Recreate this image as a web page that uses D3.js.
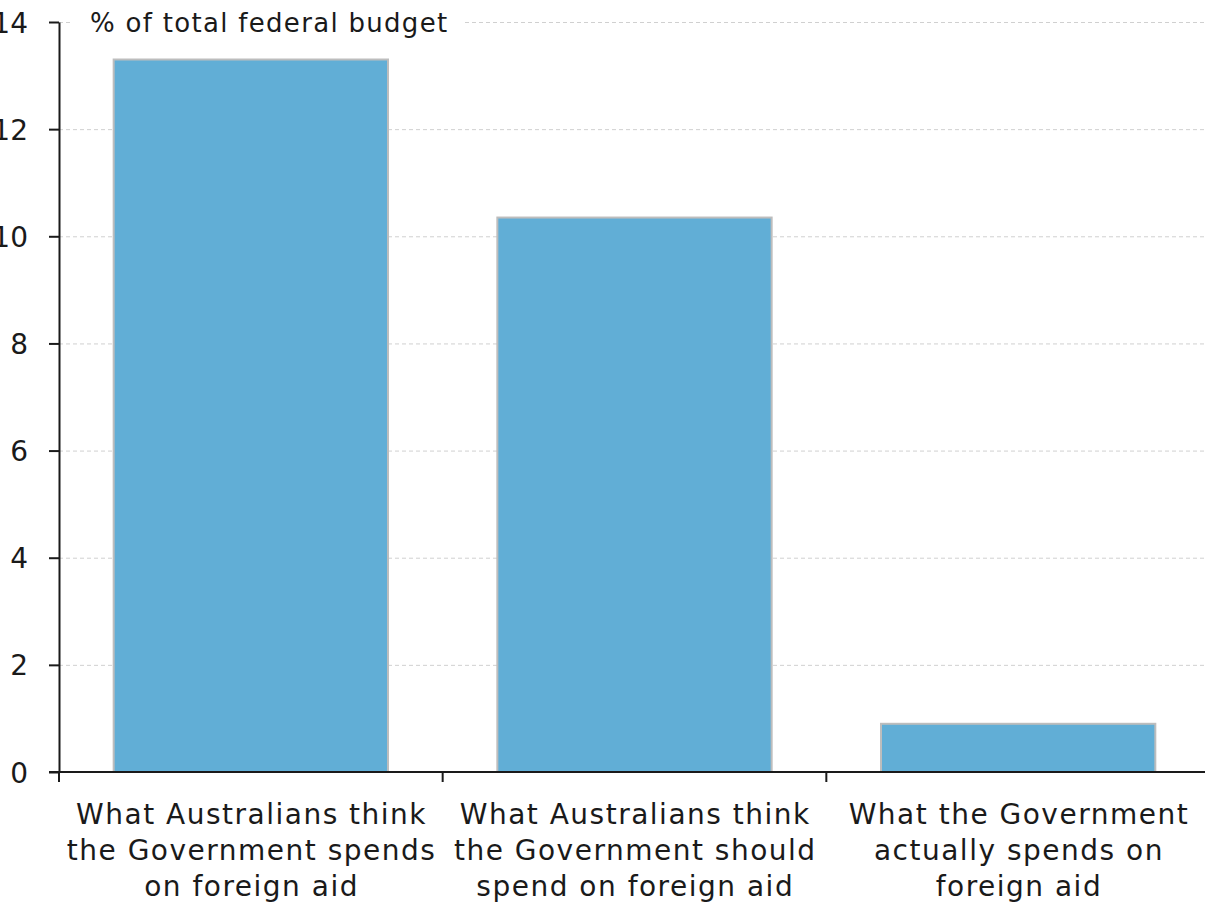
<!DOCTYPE html>
<html>
<head>
<meta charset="utf-8">
<script src="https://cdn.jsdelivr.net/npm/d3@7"></script>
<style>
  html, body { margin: 0; padding: 0; background: #fff; }
  svg { display: block; }
  text { font-family: "DejaVu Sans", sans-serif; fill: #1a1a1a; }
</style>
</head>
<body>
<svg id="chart" width="1205" height="915"></svg>
<script>
// Foreign aid: perception vs preference vs reality (% of total federal budget)
const categories = [
  ["What Australians think", "the Government spends", "on foreign aid"],
  ["What Australians think", "the Government should", "spend on foreign aid"],
  ["What the Government", "actually spends on", "foreign aid"]
];
const values = [13.3, 10.35, 0.9];
const yTicks = [0, 2, 4, 6, 8, 10, 12, 14];
const unitLabel = "% of total federal budget";

const svg = d3.select("#chart");
const margin = { left: 59, top: 22, bottom: 143 };
const plotRight = 1210;
const plotBottom = 915 - margin.bottom;

const x = d3.scaleBand()
  .domain(d3.range(categories.length))
  .range([margin.left, plotRight])
  .paddingInner(0.285)
  .paddingOuter(0.1425);

const y = d3.scaleLinear().domain([0, 14]).range([plotBottom, margin.top]);

// dashed gridlines
svg.append("g")
  .selectAll("line")
  .data(yTicks.filter(d => d > 0))
  .join("line")
  .attr("x1", margin.left)
  .attr("x2", 1205)
  .attr("y1", d => y(d) + 0.5)
  .attr("y2", d => y(d) + 0.5)
  .attr("stroke", "#d0d0d0")
  .attr("stroke-width", 1)
  .attr("stroke-dasharray", "4,3");

// white backing for the unit label, over the top gridline
const unitBack = svg.append("rect")
  .attr("fill", "#fff");

// bars
svg.append("g")
  .selectAll("rect")
  .data(values)
  .join("rect")
  .attr("x", (d, i) => x(i))
  .attr("y", d => y(d))
  .attr("width", x.bandwidth())
  .attr("height", d => plotBottom - y(d))
  .attr("fill", "#61aed6")
  .attr("stroke", "#bdbdbd")
  .attr("stroke-width", 2);

// y axis
const yAxis = svg.append("g")
  .attr("transform", `translate(${margin.left},0)`)
  .call(d3.axisLeft(y).tickValues(yTicks).tickSize(10).tickPadding(21).tickSizeOuter(0));
yAxis.select(".domain").attr("stroke", "#1a1a1a").attr("stroke-width", 2);
yAxis.selectAll(".tick line").attr("stroke", "#1a1a1a").attr("stroke-width", 2);
yAxis.selectAll(".tick text")
  .attr("font-size", 28)
  .attr("font-family", "DejaVu Sans, sans-serif")
  .attr("fill", "#1a1a1a")
  .attr("dy", "0.36em");

// x axis baseline and category separators
const step = x.step();
const sepTicks = d3.range(categories.length).map(i => margin.left + i * step);
svg.append("line")
  .attr("x1", margin.left - 10)
  .attr("x2", 1205)
  .attr("y1", plotBottom)
  .attr("y2", plotBottom)
  .attr("stroke", "#1a1a1a")
  .attr("stroke-width", 2);
svg.append("g")
  .selectAll("line")
  .data(sepTicks)
  .join("line")
  .attr("x1", d => d)
  .attr("x2", d => d)
  .attr("y1", plotBottom)
  .attr("y2", plotBottom + 10)
  .attr("stroke", "#1a1a1a")
  .attr("stroke-width", 2);

// category labels (shifted by half the letter spacing to stay centred)
const labelSpacing = 1.5;
const labels = svg.append("g")
  .selectAll("text")
  .data(categories)
  .join("text")
  .attr("x", (d, i) => x(i) + x.bandwidth() / 2 + labelSpacing / 2)
  .attr("y", plotBottom + 52)
  .attr("text-anchor", "middle")
  .attr("font-size", 28)
  .attr("letter-spacing", labelSpacing);
labels.selectAll("tspan")
  .data(d => d)
  .join("tspan")
  .attr("x", function () { return this.parentNode.getAttribute("x"); })
  .attr("dy", (d, i) => i === 0 ? 0 : 36)
  .text(d => d);

// unit label
const unit = svg.append("text")
  .attr("x", 90)
  .attr("y", 32)
  .attr("font-size", 26)
  .attr("letter-spacing", 1.3)
  .text(unitLabel);
const bb = unit.node().getBBox();
unitBack
  .attr("x", bb.x - 20)
  .attr("y", bb.y)
  .attr("width", bb.width + 36)
  .attr("height", bb.height);
</script>
</body>
</html>
